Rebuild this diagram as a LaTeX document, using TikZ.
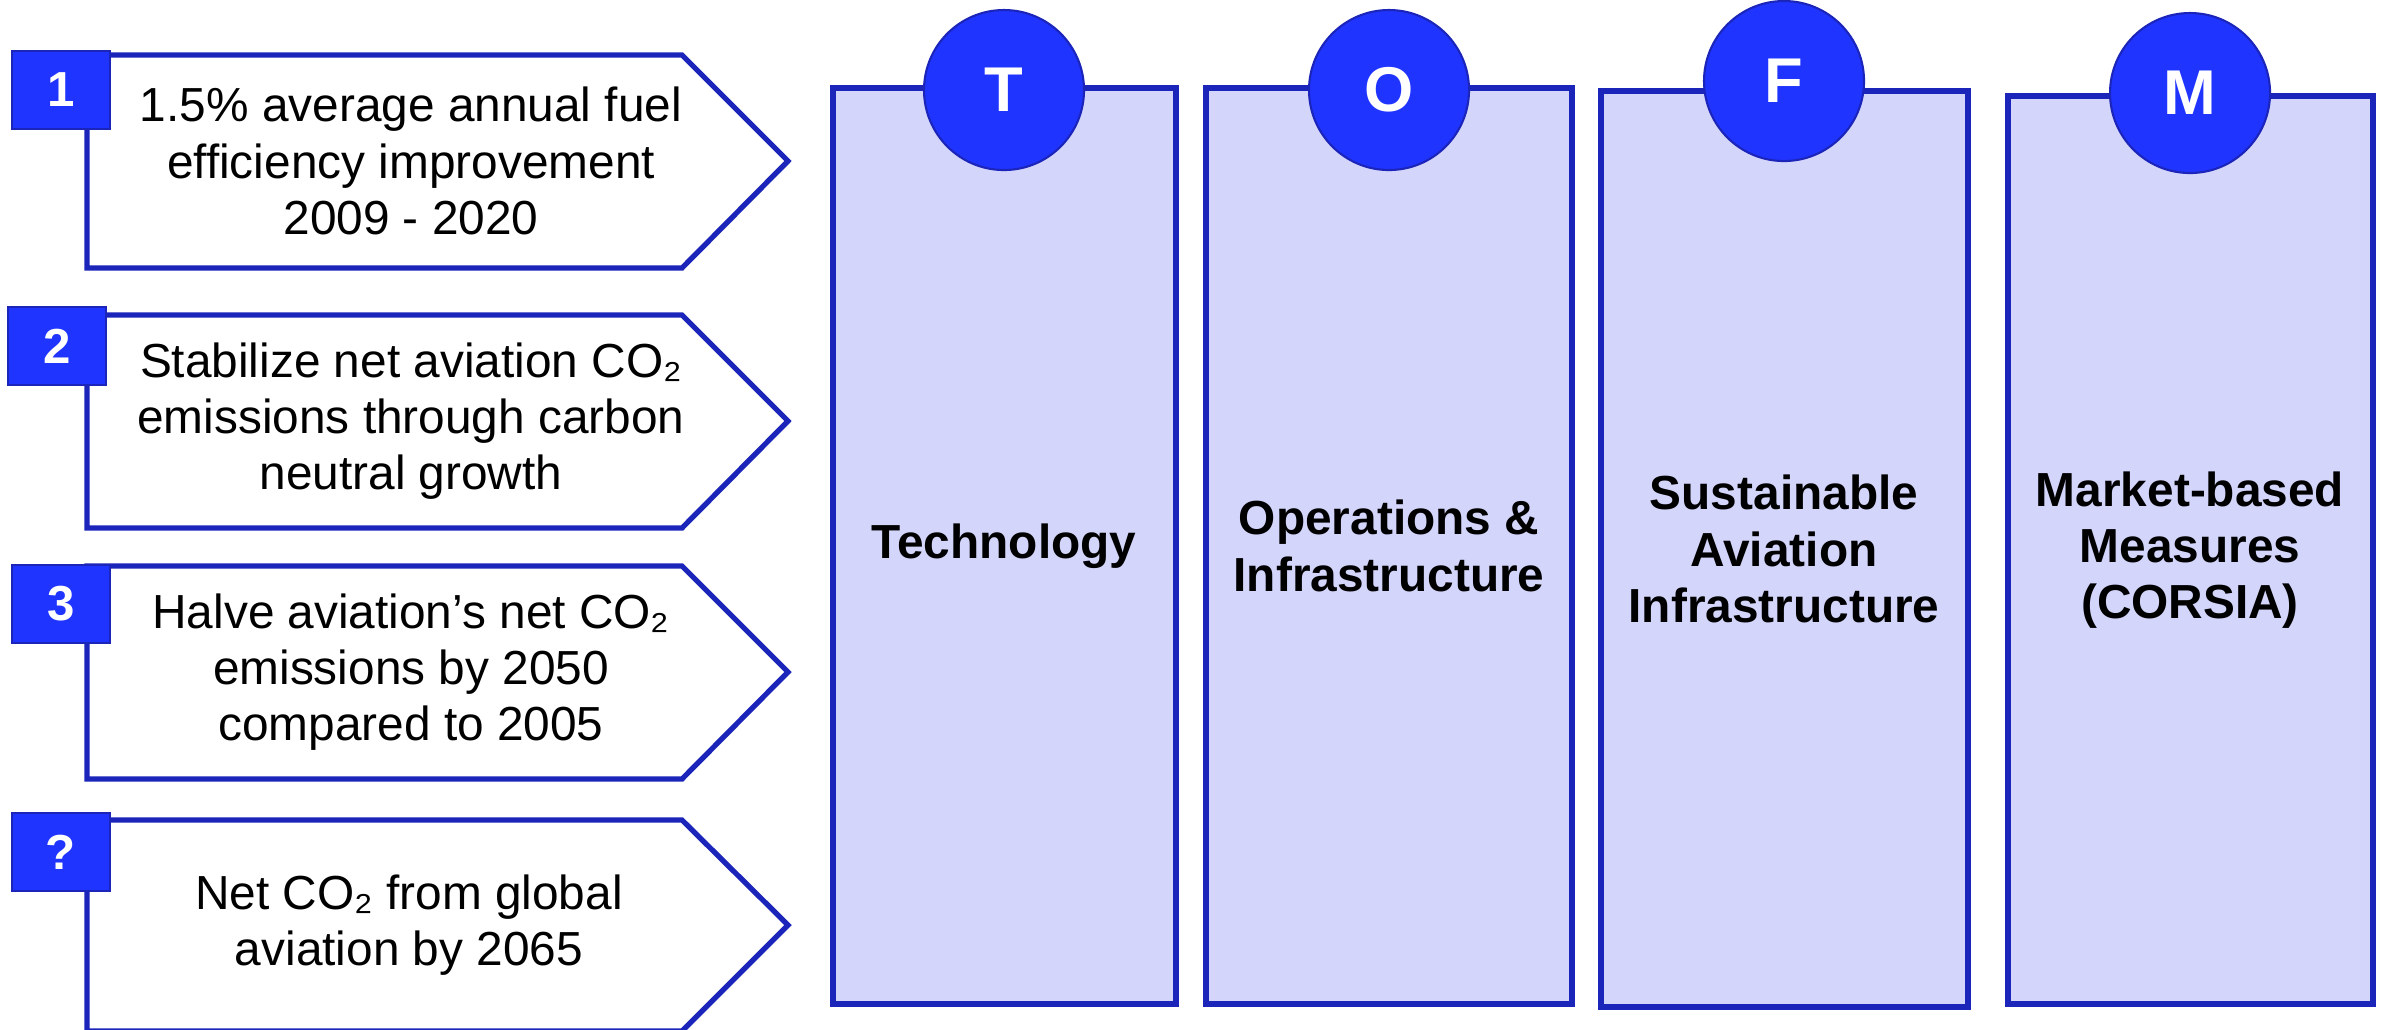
\documentclass[tikz,border=0pt]{standalone}
\usepackage{fontspec}
\setmainfont{Liberation Sans}
\usetikzlibrary{positioning}
\definecolor{edgec}{HTML}{1B25BA}
\definecolor{brightc}{HTML}{2034FF}
\definecolor{palec}{HTML}{D3D5FB}
\tikzset{
  goal/.style={draw=edgec,line width=1.5pt,fill=white,line join=miter},
  goaltxt/.style={align=center,inner sep=0pt,font=\fontsize{13.6}{16}\selectfont},
  badge/.style={draw=edgec,line width=0.4pt,fill=brightc,text=white,inner sep=0pt,
    minimum width=9.8mm,minimum height=7.8mm,font=\bfseries\fontsize{14}{16}\selectfont},
  pillar/.style={draw=edgec,line width=1.7pt,fill=palec,inner sep=0pt,align=center,
    font=\bfseries\fontsize{13.6}{16}\selectfont},
  disc/.style={circle,draw=edgec,line width=0.6pt,fill=brightc,text=white,inner sep=0pt,
    minimum size=16mm,font=\bfseries\fontsize{18}{20}\selectfont}
}

\begin{document}
\begin{tikzpicture}[x=0.1mm,y=-0.1mm]
\useasboundingbox (0,0) rectangle (2392,1029);
% goals on the left
\draw[goal] (87,55) -- (682,55) -- (788,161) -- (682,268) -- (87,268) -- cycle;
\draw[goal] (87,315) -- (682,315) -- (788,421) -- (682,528) -- (87,528) -- cycle;
\draw[goal] (87,566) -- (682,566) -- (788,672) -- (682,779) -- (87,779) -- cycle;
\draw[goal] (87,820) -- (682,820) -- (788,925) -- (682,1031) -- (87,1031) -- cycle;
\node[goaltxt] (g1) at (411,161) {1.5\% average annual fuel\\efficiency improvement\\2009 - 2020};
\node[goaltxt] (g2) at (411,421) {Stabilize net aviation CO₂\\emissions through carbon\\neutral growth};
\node[goaltxt] (g3) at (411,672) {Halve aviation’s net CO₂\\emissions by 2050\\compared to 2005};
\node[goaltxt] (g4) at (409,925) {Net CO₂ from global\\aviation by 2065};
\node[badge] (b1) at (61,90) {1};
\node[badge] (b2) at (57,346) {2};
\node[badge] (b3) at (61,604) {3};
\node[badge] (b4) at (61,852) {?};
% the four pillars
\node[pillar,minimum width=34.3mm,minimum height=91.6mm] (colT) at (1004,546) {Technology};
\node[pillar,minimum width=36.6mm,minimum height=91.6mm] (colO) at (1389,546) {Operations \&\\Infrastructure};
\node[pillar,minimum width=36.7mm,minimum height=91.6mm] (colF) at (1784,549) {Sustainable\\Aviation\\Infrastructure};
\node[pillar,minimum width=36.5mm,minimum height=90.8mm] (colM) at (2190,550) {Market-based\\Measures\\(CORSIA)};
\node[disc] (T) at ([yshift=-0.5mm]colT.north) {T};
\node[disc] (O) at ([yshift=-0.5mm]colO.north) {O};
\node[disc] (F) at ([yshift=0.7mm]colF.north) {F};
\node[disc] (M) at (colM.north) {M};
\end{tikzpicture}
\end{document}
